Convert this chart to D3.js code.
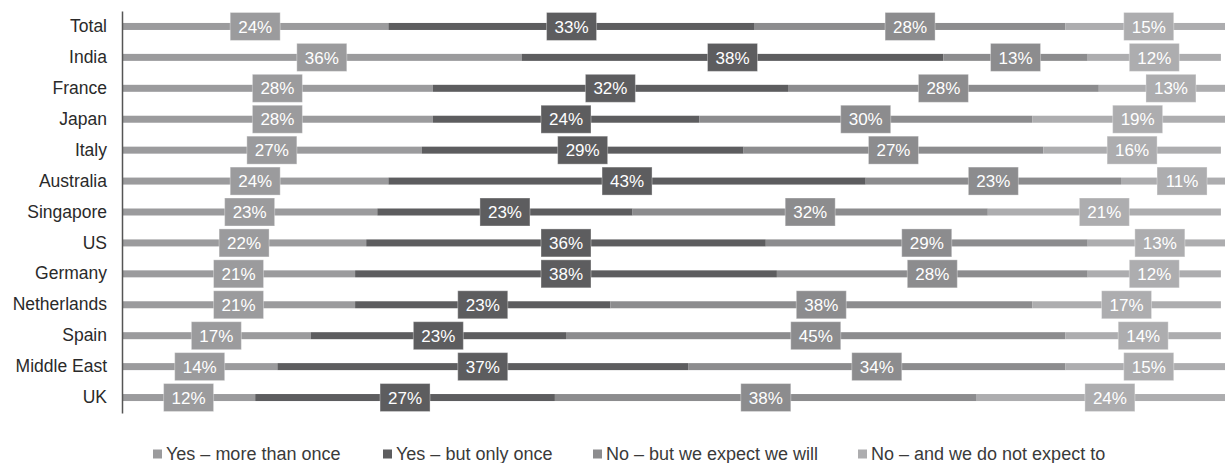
<!DOCTYPE html>
<html>
<head>
<meta charset="utf-8">
<script src="https://cdn.jsdelivr.net/npm/d3@7"></script>
<style>
  html, body { margin: 0; padding: 0; background: #fff; }
  svg { display: block; font-family: "Liberation Sans", Arial, sans-serif; }
</style>
</head>
<body>
<svg id="chart" width="1225" height="463"></svg>
<script>
const categories = ["Total","India","France","Japan","Italy","Australia","Singapore","US","Germany","Netherlands","Spain","Middle East","UK"];
const seriesNames = ["Yes – more than once","Yes – but only once","No – but we expect we will","No – and we do not expect to"];
const moreThanOnce = [24,36,28,28,27,24,23,22,21,21,17,14,12];
const onlyOnce     = [33,38,32,24,29,43,23,36,38,23,23,37,27];
const expectWill   = [28,13,28,30,27,23,32,29,28,38,45,34,38];
const notExpect    = [15,12,13,19,16,11,21,13,12,17,14,15,24];
const seriesColors = ["#9b9b9d","#5d5d5f","#8c8c8e","#adadaf"];

const seriesValues = [moreThanOnce, onlyOnce, expectWill, notExpect];
const keys = ["s0","s1","s2","s3"];
const rows = categories.map((c, i) => {
  const r = { cat: c };
  keys.forEach((k, j) => r[k] = seriesValues[j][i]);
  return r;
});
const stacked = d3.stack().keys(keys)(rows);

const svg = d3.select("#chart");
const x = d3.scaleLinear().domain([0, 100]).range([122, 1232]);
const y = d3.scaleBand().domain(categories).range([11, 413]);
const color = d3.scaleOrdinal().domain(keys).range(seriesColors);

const barH = 7, boxW = 50, boxH = 28;

// bars
const layers = svg.append("g").selectAll("g").data(stacked).join("g")
  .attr("fill", d => color(d.key));
layers.selectAll("rect").data(d => d).join("rect")
  .attr("x", d => x(d[0]))
  .attr("width", d => x(d[1]) - x(d[0]))
  .attr("y", d => y(d.data.cat) + y.bandwidth() / 2 - barH / 2)
  .attr("height", barH);

// labels
const labLayers = svg.append("g").selectAll("g").data(stacked).join("g");
const lab = labLayers.selectAll("g").data(d => d.map(v => ({ v, key: d.key }))).join("g")
  .attr("transform", d => `translate(${(x(d.v[0]) + x(d.v[1])) / 2},${y(d.v.data.cat) + y.bandwidth() / 2})`);
lab.append("rect")
  .attr("x", -boxW / 2).attr("y", -boxH / 2)
  .attr("width", boxW).attr("height", boxH)
  .attr("fill", d => color(d.key))
  .attr("stroke", "#ffffff").attr("stroke-opacity", 0.35).attr("stroke-width", 1);
lab.append("text")
  .attr("text-anchor", "middle")
  .attr("dy", "0.36em")
  .attr("fill", "#ffffff")
  .attr("font-size", 17)
  .text(d => (d.v[1] - d.v[0]) + "%");

// y axis
const yAxis = d3.axisLeft(y).tickSize(0).tickPadding(15);
const ag = svg.append("g").attr("transform", "translate(122,0)").call(yAxis);
ag.select(".domain").attr("stroke", "#555").attr("stroke-width", 1.5);
ag.selectAll("text").attr("font-size", 17.5).attr("fill", "#2a2a2a")
  .attr("font-family", "'Liberation Sans', Arial, sans-serif");

// legend
const legendX = [153, 383, 593, 858];
const lg = svg.append("g").selectAll("g").data(keys).join("g")
  .attr("transform", (d, i) => `translate(${legendX[i]},454)`);
lg.append("rect").attr("x", 0).attr("y", -4.5).attr("width", 9).attr("height", 9)
  .attr("fill", d => color(d));
lg.append("text").attr("x", 13).attr("dy", "0.36em")
  .attr("font-size", 18).attr("fill", "#3a3a3a")
  .text((d, i) => seriesNames[i]);
</script>
</body>
</html>
